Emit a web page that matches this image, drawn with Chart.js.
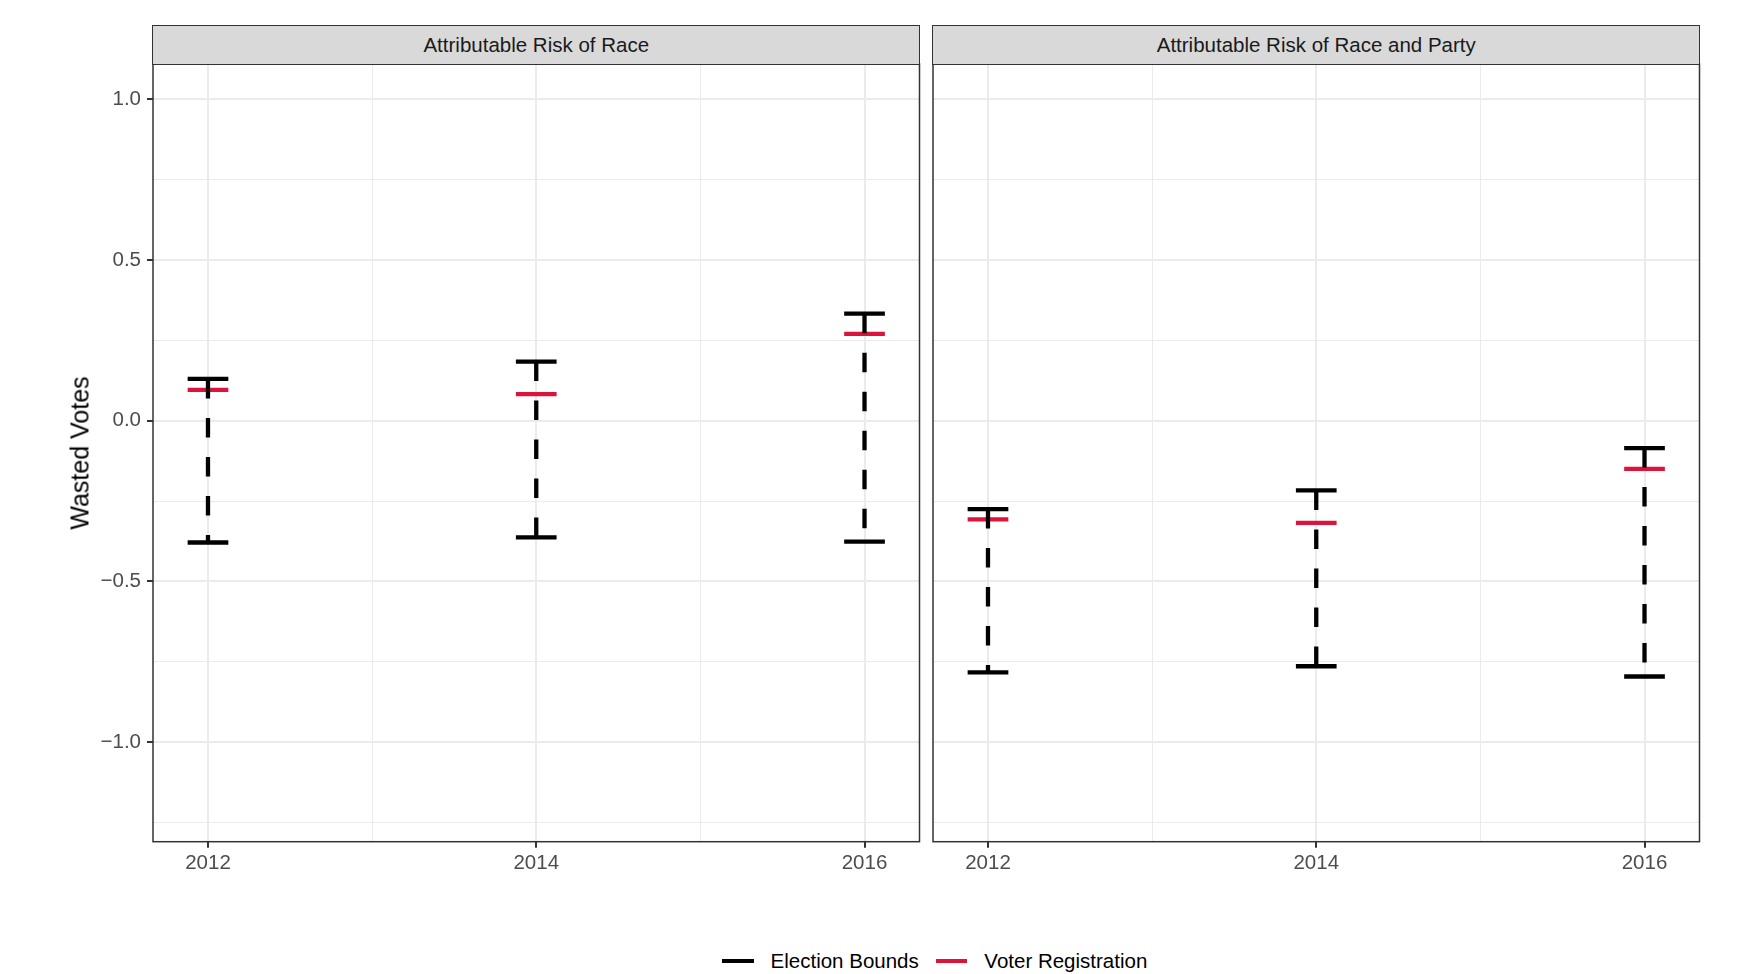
<!DOCTYPE html>
<html><head><meta charset="utf-8">
<script src="https://cdn.jsdelivr.net/npm/chart.js@4"></script>
<style>
html,body{margin:0;padding:0;background:#fff;}
body{width:1737px;height:974px;position:relative;overflow:hidden;font-family:"Liberation Sans",Arial,sans-serif;}
canvas{position:absolute;top:0;}
.strip{position:absolute;top:25.25px;height:39.5px;width:768px;background:#D9D9D9;border:1.5px solid #333;box-sizing:border-box;color:#1A1A1A;font-size:20.5px;display:flex;align-items:center;justify-content:center;white-space:nowrap;}
#ytitle{position:absolute;left:80px;top:453px;transform:translate(-50%,-50%) rotate(-90deg);font-size:25px;color:#000;white-space:nowrap;}
#legend{position:absolute;left:722px;top:961px;transform:translateY(-50%);display:flex;align-items:center;font-size:20.5px;color:#000;white-space:nowrap;}
.key{width:31.6px;height:4.5px;margin-right:17px;}
.ltxt{margin-right:17px;}
</style></head>
<body>
<canvas id="c1" width="926" height="880" style="left:0px;width:926px;height:880px"></canvas>
<canvas id="c2" width="811" height="880" style="left:926px;width:811px;height:880px"></canvas>
<div class="strip" id="s1" style="left:152.25px"></div>
<div class="strip" id="s2" style="left:932.25px"></div>
<div id="ytitle"></div>
<div id="legend"></div>
<script>
// ---- data ----
const years = [2012, 2014, 2016];
const panelTitles = ["Attributable Risk of Race", "Attributable Risk of Race and Party"];
const raceUpper = [0.130, 0.184, 0.333];
const raceLower = [-0.379, -0.363, -0.376];
const raceReg   = [0.096, 0.083, 0.270];
const partyUpper = [-0.275, -0.217, -0.085];
const partyLower = [-0.783, -0.764, -0.796];
const partyReg   = [-0.307, -0.318, -0.150];
const yTickValues = [-1.25, -1, -0.75, -0.5, -0.25, 0, 0.25, 0.5, 0.75, 1];
const yMajorValues = [-1, -0.5, 0, 0.5, 1];
const yMajorLabels = ["\u22121.0", "\u22120.5", "0.0", "0.5", "1.0"];
const xTickValues = [2012, 2013, 2014, 2015, 2016];
const xMajorValues = [2012, 2014, 2016];
const xMajorLabels = ["2012", "2014", "2016"];
const seriesNames = ["Election Bounds", "Voter Registration"];
const yTitle = "Wasted Votes";

// ---- styles ----
const BLACK = "#000000", RED = "#DC143C";
const CAP_HALF = 0.124;
const Y_MIN = -1.31, Y_MAX = 1.11, X_MIN = 2011.665, X_MAX = 2016.335;
const FONT = '"Liberation Sans", Arial, sans-serif';

document.getElementById('s1').textContent = panelTitles[0];
document.getElementById('s2').textContent = panelTitles[1];
document.getElementById('ytitle').textContent = yTitle;
const leg = document.getElementById('legend');
[BLACK, RED].forEach((c, i) => {
  const k = document.createElement('div'); k.className = 'key'; k.style.background = c; leg.appendChild(k);
  const t = document.createElement('div'); t.className = 'ltxt'; t.textContent = seriesNames[i]; leg.appendChild(t);
});

const isMajor = (v, arr) => arr.some(m => Math.abs(m - v) < 1e-9);

const borderPlugin = {
  id: 'panelBorder',
  afterDraw(chart) {
    const a = chart.chartArea, ctx = chart.ctx;
    ctx.save();
    ctx.strokeStyle = '#333333';
    ctx.lineWidth = 1.5;
    ctx.setLineDash([]);
    ctx.strokeRect(a.left, a.top, a.right - a.left, a.bottom - a.top);
    ctx.restore();
  }
};

function makeChart(id, upper, lower, reg, showY, yWidth, padRight) {
  const datasets = [];
  years.forEach((yr, i) => {
    datasets.push({ data: [{x: yr, y: upper[i]}, {x: yr, y: lower[i]}], borderColor: BLACK, borderWidth: 4.3, borderDash: [19.5, 19.5], order: 0 });
    datasets.push({ data: [{x: yr - CAP_HALF, y: upper[i]}, {x: yr + CAP_HALF, y: upper[i]}], borderColor: BLACK, borderWidth: 4.3, order: 1 });
    datasets.push({ data: [{x: yr - CAP_HALF, y: lower[i]}, {x: yr + CAP_HALF, y: lower[i]}], borderColor: BLACK, borderWidth: 4.3, order: 1 });
    datasets.push({ data: [{x: yr - CAP_HALF, y: reg[i]}, {x: yr + CAP_HALF, y: reg[i]}], borderColor: RED, borderWidth: 4.3, order: 2 });
  });
  datasets.forEach(d => { d.pointRadius = 0; d.tension = 0; d.fill = false; d.borderCapStyle = 'butt'; });

  return new Chart(document.getElementById(id), {
    type: 'line',
    data: { datasets },
    plugins: [borderPlugin],
    options: {
      responsive: false, animation: false, events: [],
      devicePixelRatio: 1,
      layout: { padding: { top: 64, right: padRight, left: 0, bottom: 0 } },
      plugins: { legend: { display: false }, tooltip: { enabled: false }, title: { display: false } },
      scales: {
        x: {
          type: 'linear', min: X_MIN, max: X_MAX,
          afterBuildTicks: s => { s.ticks = xTickValues.map(v => ({ value: v })); },
          afterFit: s => { s.height = 880 - 841.7; },
          border: { display: false },
          grid: {
            color: '#EBEBEB',
            lineWidth: c => (c.tick && isMajor(c.tick.value, xMajorValues)) ? 2 : 1,
            tickLength: 6,
            tickColor: c => (c.tick && isMajor(c.tick.value, xMajorValues)) ? '#333333' : 'rgba(0,0,0,0)',
            tickWidth: 2
          },
          ticks: {
            autoSkip: false, maxRotation: 0, padding: 3,
            color: '#4D4D4D', font: { family: FONT, size: 20.5 },
            callback: v => { const j = xMajorValues.findIndex(m => Math.abs(m - v) < 1e-9); return j >= 0 ? xMajorLabels[j] : ''; }
          }
        },
        y: {
          type: 'linear', min: Y_MIN, max: Y_MAX,
          afterBuildTicks: s => { s.ticks = yTickValues.map(v => ({ value: v })); },
          afterFit: s => { s.width = yWidth; },
          border: { display: false },
          grid: {
            color: '#EBEBEB',
            lineWidth: c => (c.tick && isMajor(c.tick.value, yMajorValues)) ? 2 : 1,
            drawTicks: showY,
            tickLength: showY ? 6 : 0,
            tickColor: c => (c.tick && isMajor(c.tick.value, yMajorValues)) ? '#333333' : 'rgba(0,0,0,0)',
            tickWidth: 2
          },
          ticks: {
            display: showY, autoSkip: false, padding: 6,
            color: '#4D4D4D', font: { family: FONT, size: 20.5 },
            callback: v => { const j = yMajorValues.findIndex(m => Math.abs(m - v) < 1e-9); return j >= 0 ? yMajorLabels[j] : ''; }
          }
        }
      }
    }
  });
}

makeChart('c1', raceUpper, raceLower, raceReg, true, 153, 926 - 919.5);
makeChart('c2', partyUpper, partyLower, partyReg, false, 7, 926 + 811 - 1699.5);
</script>
</body></html>
